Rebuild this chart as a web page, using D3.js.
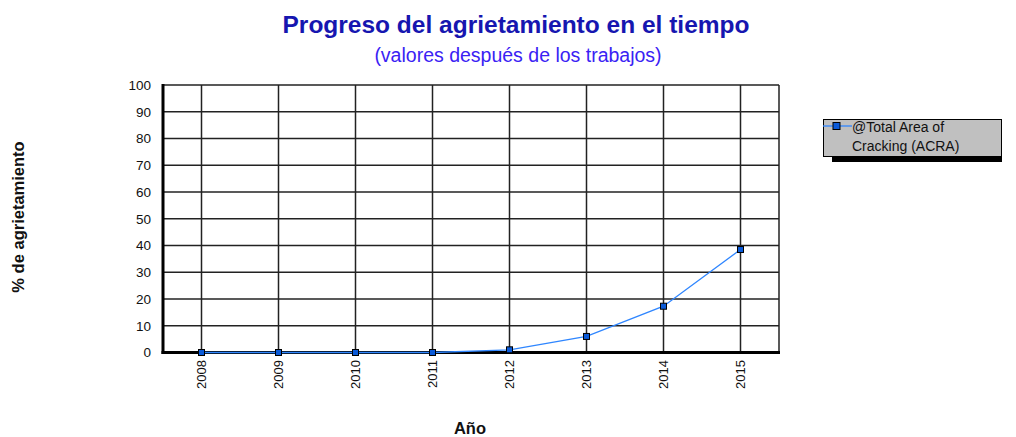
<!DOCTYPE html>
<html>
<head>
<meta charset="utf-8">
<script src="https://cdn.jsdelivr.net/npm/d3@7"></script>
<style>
  html, body { margin: 0; padding: 0; background: #fff; }
  svg { display: block; font-family: Arial, "Liberation Sans", sans-serif; }
</style>
</head>
<body>
<svg id="chart" width="1016" height="437"></svg>
<script>
// Crack progression data (percent of area cracked per year)
const years = ["2008", "2009", "2010", "2011", "2012", "2013", "2014", "2015"];
const crackingPct = [0, 0, 0, 0, 1, 6, 17.3, 38.5];
const yTicks = [0, 10, 20, 30, 40, 50, 60, 70, 80, 90, 100];
const seriesName = ["@Total Area of", "Cracking (ACRA)"];

const svg = d3.select("#chart");
const plot = { left: 163, right: 779, top: 85, bottom: 352.5 };

const x = d3.scaleBand().domain(years).range([plot.left, plot.right]);
const y = d3.scaleLinear().domain([0, 100]).range([plot.bottom, plot.top]);
const cx = d => x(d) + x.bandwidth() / 2;

// Titles
svg.append("text")
  .attr("x", 516).attr("y", 33)
  .attr("text-anchor", "middle")
  .attr("font-size", 24.5).attr("font-weight", "bold")
  .attr("fill", "#1616b0")
  .text("Progreso del agrietamiento en el tiempo");
svg.append("text")
  .attr("x", 518).attr("y", 62)
  .attr("text-anchor", "middle")
  .attr("font-size", 19.5)
  .attr("fill", "#3a22f4")
  .text("(valores después de los trabajos)");

// Horizontal gridlines
svg.append("g")
  .selectAll("line")
  .data(yTicks)
  .join("line")
  .attr("x1", plot.left).attr("x2", plot.right)
  .attr("y1", d => y(d)).attr("y2", d => y(d))
  .attr("stroke", "#222").attr("stroke-width", 1.5);

// Vertical gridlines at category centers
svg.append("g")
  .selectAll("line")
  .data(years)
  .join("line")
  .attr("x1", d => cx(d)).attr("x2", d => cx(d))
  .attr("y1", plot.top).attr("y2", plot.bottom)
  .attr("stroke", "#222").attr("stroke-width", 1.5);

// Right border
svg.append("line")
  .attr("x1", plot.right).attr("x2", plot.right)
  .attr("y1", plot.top).attr("y2", plot.bottom)
  .attr("stroke", "#222").attr("stroke-width", 1.5);

// Y axis labels
const yAxis = d3.axisLeft(y).tickValues(yTicks).tickSize(0).tickPadding(12);
const gy = svg.append("g").attr("transform", `translate(${plot.left},0)`).call(yAxis);
gy.select(".domain").remove();
gy.selectAll("text").attr("font-size", 13.5).attr("fill", "#111")
  .attr("font-family", "Arial, 'Liberation Sans', sans-serif");

// X axis labels (rotated)
svg.append("g")
  .selectAll("text")
  .data(years)
  .join("text")
  .attr("transform", d => `translate(${cx(d) + 4.5},${plot.bottom + 7.5}) rotate(-90)`)
  .attr("text-anchor", "end")
  .attr("font-size", 13).attr("fill", "#111")
  .text(d => d);

// Thick axis lines
svg.append("line")
  .attr("x1", plot.left).attr("x2", plot.left)
  .attr("y1", plot.top - 1).attr("y2", plot.bottom + 1.5)
  .attr("stroke", "#000").attr("stroke-width", 3);
svg.append("line")
  .attr("x1", plot.left - 1.5).attr("x2", plot.right + 1)
  .attr("y1", plot.bottom).attr("y2", plot.bottom)
  .attr("stroke", "#000").attr("stroke-width", 3);

// Series line
const line = d3.line().x((d, i) => cx(years[i])).y(d => y(d));
svg.append("path")
  .datum(crackingPct)
  .attr("d", line)
  .attr("fill", "none")
  .attr("stroke", "#2f86ff").attr("stroke-width", 1.3);

// Markers
svg.append("g")
  .selectAll("rect")
  .data(crackingPct)
  .join("rect")
  .attr("x", (d, i) => cx(years[i]) - 3)
  .attr("y", d => y(d) - 3)
  .attr("width", 6).attr("height", 6)
  .attr("fill", "#0a5ad8")
  .attr("stroke", "#000").attr("stroke-width", 1);

// Axis titles
svg.append("text")
  .attr("transform", "translate(24,217) rotate(-90)")
  .attr("text-anchor", "middle")
  .attr("font-size", 16.5).attr("font-weight", "bold").attr("fill", "#111")
  .text("% de agrietamiento");
svg.append("text")
  .attr("x", 470).attr("y", 434)
  .attr("text-anchor", "middle")
  .attr("font-size", 16.5).attr("font-weight", "bold").attr("fill", "#111")
  .text("Año");

// Legend
const lg = svg.append("g");
lg.append("rect")
  .attr("x", 832).attr("y", 124).attr("width", 170).attr("height", 38)
  .attr("fill", "#000");
lg.append("rect")
  .attr("x", 823.5).attr("y", 119.5).attr("width", 178).attr("height", 37)
  .attr("fill", "#c0c0c0").attr("stroke", "#000").attr("stroke-width", 1);
lg.append("line")
  .attr("x1", 823).attr("x2", 852).attr("y1", 126).attr("y2", 126)
  .attr("stroke", "#2f86ff").attr("stroke-width", 1.3);
lg.append("rect")
  .attr("x", 833).attr("y", 122.5).attr("width", 7).attr("height", 7)
  .attr("fill", "#0a5ad8").attr("stroke", "#000").attr("stroke-width", 1);
lg.append("text")
  .attr("x", 852).attr("y", 132)
  .attr("font-size", 14).attr("fill", "#111")
  .selectAll("tspan")
  .data(seriesName)
  .join("tspan")
  .attr("x", 852)
  .attr("dy", (d, i) => i === 0 ? 0 : 19)
  .text(d => d);
</script>
</body>
</html>
